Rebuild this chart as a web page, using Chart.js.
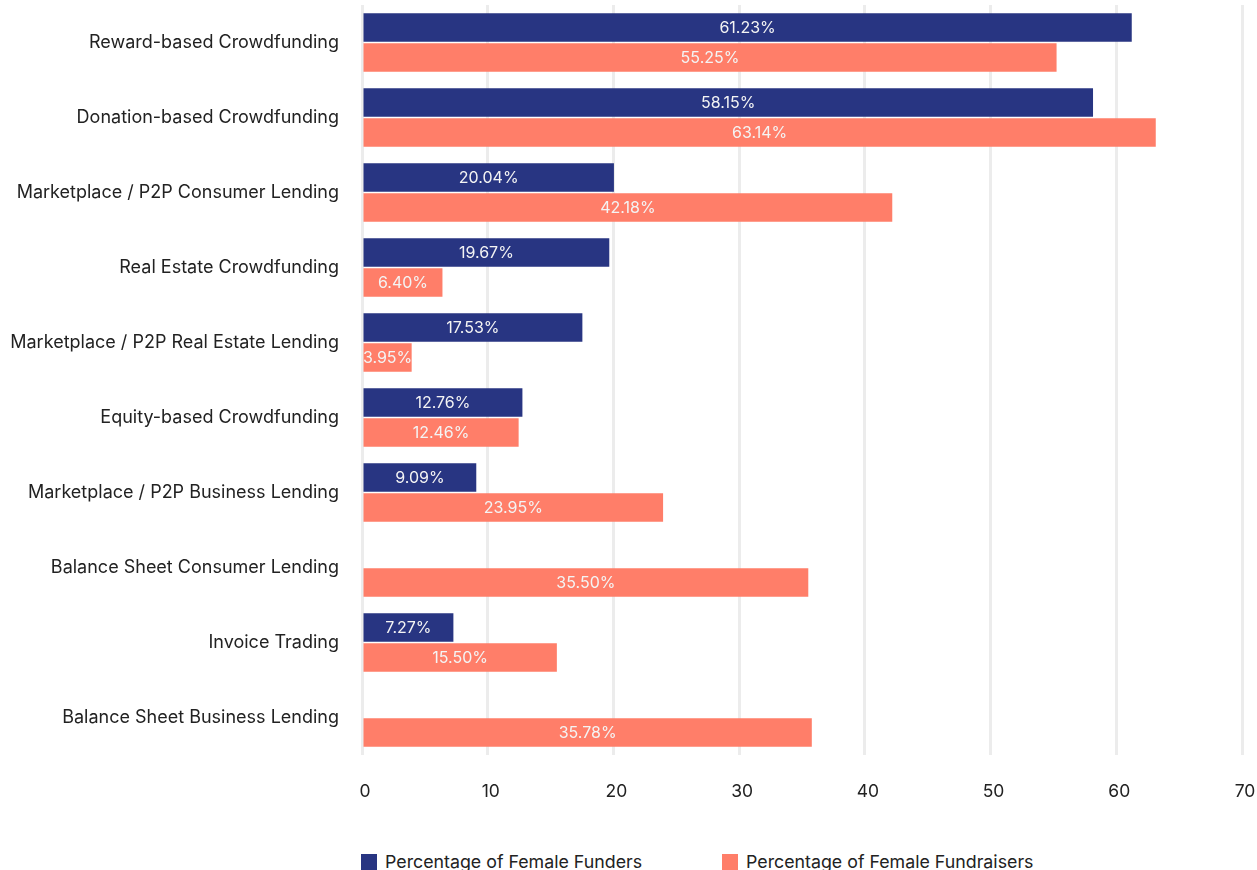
<!DOCTYPE html>
<html>
<head>
<meta charset="utf-8">
<script src="https://cdn.jsdelivr.net/npm/chart.js@4"></script>
<style>
  body { margin:0; background:#fff; font-family:Inter, sans-serif; }
  #wrap { position:relative; width:1257px; height:870px; overflow:hidden; }
  #box { position:absolute; left:0; top:0; width:1257px; height:810px; }
  #legend { position:absolute; left:361px; top:851px; display:flex; font-size:17.8px; color:#222; }
  .item { display:flex; align-items:center; }
  .item span.sw { width:16px; height:16px; margin-right:8px; display:inline-block; }
</style>
</head>
<body>
<div id="wrap">
  <div id="box"><canvas id="chart"></canvas></div>
  <div id="legend"></div>
</div>
<script>
const categorias = [
  "Reward-based Crowdfunding",
  "Donation-based Crowdfunding",
  "Marketplace / P2P Consumer Lending",
  "Real Estate Crowdfunding",
  "Marketplace / P2P Real Estate Lending",
  "Equity-based Crowdfunding",
  "Marketplace / P2P Business Lending",
  "Balance Sheet Consumer Lending",
  "Invoice Trading",
  "Balance Sheet Business Lending"
];
const series = ["Percentage of Female Funders", "Percentage of Female Fundraisers"];
const funders = [61.23, 58.15, 20.04, 19.67, 17.53, 12.76, 9.09, null, 7.27, null];
const fundraisers = [55.25, 63.14, 42.18, 6.40, 3.95, 12.46, 23.95, 35.50, 15.50, 35.78];
const xTicks = [0, 10, 20, 30, 40, 50, 60, 70];
const cores = ["#283582", "#ff7e69"];

// rótulos dentro das barras
const rotulos = {
  id: "rotulos",
  afterDatasetsDraw(chart) {
    const ctx = chart.ctx;
    ctx.save();
    ctx.font = "16px Inter, sans-serif";
    ctx.fillStyle = "#f4f4f4";
    ctx.textAlign = "center";
    ctx.textBaseline = "middle";
    chart.data.datasets.forEach((ds, i) => {
      chart.getDatasetMeta(i).data.forEach((bar, j) => {
        const v = ds.data[j];
        if (v == null) return;
        ctx.fillText(v.toFixed(2) + "%", (bar.x + bar.base) / 2, bar.y + 1);
      });
    });
    ctx.restore();
  }
};

const semPadding = s => { s.paddingTop = 0; s.paddingBottom = 0; s.paddingLeft = 0; s.paddingRight = 0; };

new Chart(document.getElementById("chart"), {
  type: "bar",
  data: {
    labels: categorias,
    datasets: [
      { label: series[0], data: funders, backgroundColor: cores[0] },
      { label: series[1], data: fundraisers, backgroundColor: cores[1] }
    ]
  },
  options: {
    indexAxis: "y",
    responsive: true,
    maintainAspectRatio: false,
    animation: false,
    categoryPercentage: 0.8,
    barPercentage: 0.95,
    layout: { padding: { top: 5, right: 15, bottom: 9, left: 0 } },
    plugins: { legend: { display: false }, tooltip: { enabled: false } },
    scales: {
      x: {
        min: 0, max: 70,
        afterBuildTicks: s => { s.ticks = xTicks.map(v => ({ value: v })); },
        grid: { color: "#ececec", lineWidth: 3, drawTicks: false },
        border: { display: false },
        ticks: { padding: 26, labelOffset: 3, color: "#222", font: { family: "Inter", size: 17.5 } },
        afterFit: s => { s.height = 46; semPadding(s); }
      },
      y: {
        grid: { display: false, drawTicks: false },
        border: { display: false },
        ticks: { padding: 23, color: "#222", font: { family: "Inter", size: 18 } },
        afterFit: s => { s.width = 362; semPadding(s); }
      }
    }
  },
  plugins: [rotulos]
});

const legenda = document.getElementById("legend");
series.forEach((nome, i) => {
  const d = document.createElement("div");
  d.className = "item";
  if (i === 0) d.style.width = "361px";
  d.innerHTML = `<span class="sw" style="background:${cores[i]}"></span>${nome}`;
  legenda.appendChild(d);
});
</script>
</body>
</html>
